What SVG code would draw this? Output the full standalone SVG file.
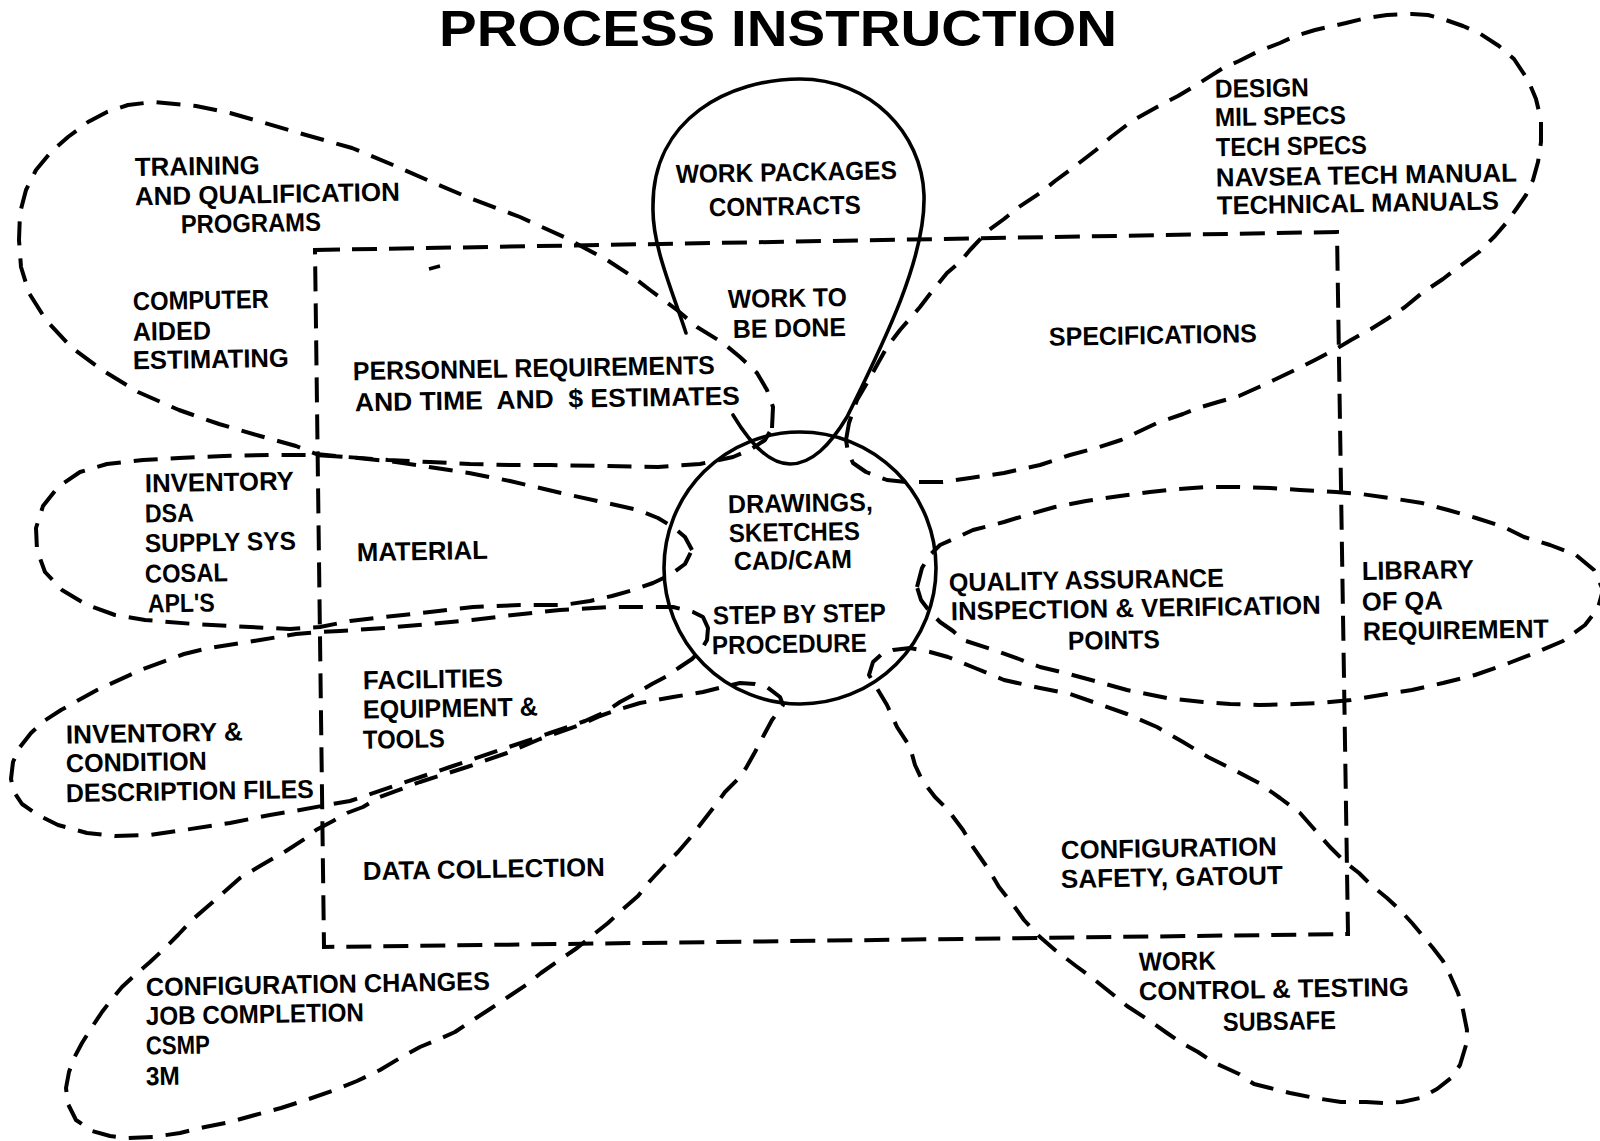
<svg xmlns="http://www.w3.org/2000/svg" width="1600" height="1141" viewBox="0 0 1600 1141">
<style>
.dash{fill:none;stroke:#000;stroke-width:4;stroke-dasharray:24 13;stroke-linejoin:round}
.frame{fill:none;stroke:#000;stroke-width:4;stroke-dasharray:25 12}
.solid{fill:none;stroke:#000;stroke-width:3.6;stroke-linecap:round}
text{font-family:"Liberation Sans",Arial,Helvetica,sans-serif;font-weight:bold;font-size:26px;fill:#000}
.title{font-size:50px}
</style>
<rect x="0" y="0" width="1600" height="1141" fill="#fff"/>

<g id="title">
<text class="title" x="439" y="46" textLength="678" lengthAdjust="spacingAndGlyphs">PROCESS INSTRUCTION</text>
</g>

<g id="frame">
<path class="frame" d="M315,250 L1337,232 L1348,934 L324,947 Z"/>
<path d="M429,269 L440,266" stroke="#000" stroke-width="3.5" fill="none"/>
</g>

<g id="petal-training">
<path class="dash" d="M772,428 L773,407 L767,390 L757,373 L740,357 L723,343 L697,327 L677,310 L650,290 L633,277 L607,260 L564,237 L520,217 L472,199 L434,183 L393,165 L352,148 L306,135 L265,123 L230,113 L196,106 L153,102 L128,105 L107,112 L88,122 L68,137 L51,152 L36,170 L26,190 L20,213 L19,240 L21,267 L29,293 L46,320 L71,347 L102,370 L138,392 L179,410 L219,424 L260,436 L296,446 L316,454 L347,457 L388,460 L430,462 L470,464 L510,465 L551,465 L602,466 L658,467 L700,464 L733,457 L750,450 L765,440 Z"/>
<text x="135" y="175" textLength="125" lengthAdjust="spacingAndGlyphs" transform="rotate(-1 197 175)">TRAINING</text>
<text x="135" y="203" textLength="265" lengthAdjust="spacingAndGlyphs" transform="rotate(-1 267 203)">AND QUALIFICATION</text>
<text x="181" y="232" textLength="140" lengthAdjust="spacingAndGlyphs" transform="rotate(-1 251 232)">PROGRAMS</text>
<text x="133" y="309" textLength="136" lengthAdjust="spacingAndGlyphs" transform="rotate(-1 201 309)">COMPUTER</text>
<text x="133" y="340" textLength="78" lengthAdjust="spacingAndGlyphs" transform="rotate(-1 172 340)">AIDED</text>
<text x="133" y="368" textLength="156" lengthAdjust="spacingAndGlyphs" transform="rotate(-1 211 368)">ESTIMATING</text>
<text x="353" y="377" textLength="362" lengthAdjust="spacingAndGlyphs" transform="rotate(-1 534 377)">PERSONNEL REQUIREMENTS</text>
<text x="355" y="408" textLength="385" lengthAdjust="spacingAndGlyphs" xml:space="preserve" transform="rotate(-1 547 408)">AND TIME  AND  $ ESTIMATES</text>
</g>

<g id="node-work-packages">
<path class="solid" d="M686,333 C672,290 652,245 653,207 C652,118 730,79 800,79 C870,79 922,133 924,195 C926,260 880,350 847,417 C830,445 812,464 790,464 C768,464 748,440 733,415"/>
<text x="676" y="181" textLength="221" lengthAdjust="spacingAndGlyphs" transform="rotate(-1 786 181)">WORK PACKAGES</text>
<text x="709" y="215" textLength="152" lengthAdjust="spacingAndGlyphs" transform="rotate(-1 785 215)">CONTRACTS</text>
<text x="728" y="307" textLength="119" lengthAdjust="spacingAndGlyphs" transform="rotate(-1 787 307)">WORK TO</text>
<text x="733" y="337" textLength="113" lengthAdjust="spacingAndGlyphs" transform="rotate(-1 789 337)">BE DONE</text>
</g>

<g id="petal-specifications">
<path class="dash" d="M846,440 L849,423 L857,400 L867,383 L877,365 L887,347 L900,330 L920,307 L933,290 L947,273 L960,262 L970,250 L989,230 L1004,219 L1019,207 L1040,193 L1055,181 L1070,170 L1096,150 L1111,137 L1132,121 L1157,107 L1178,96 L1198,84 L1223,68 L1239,61 L1259,51 L1280,43 L1295,36 L1315,30 L1346,23 L1366,18 L1387,15 L1412,14 L1428,15 L1443,19 L1463,26 L1479,33 L1499,46 L1514,59 L1528,80 L1536,99 L1541,120 L1541,142 L1538,162 L1533,180 L1526,195 L1517,208 L1507,222 L1495,236 L1479,252 L1460,266 L1443,279 L1422,293 L1405,307 L1387,319 L1371,329 L1351,340 L1336,349 L1315,360 L1295,370 L1274,380 L1259,387 L1239,396 L1218,402 L1198,408 L1183,414 L1157,423 L1138,432 L1121,440 L1096,448 L1070,455 L1040,465 L1004,473 L970,478 L943,482 L907,482 L887,480 L866,472 L853,463 L848,452 Z"/>
<text x="1215" y="97" textLength="94" lengthAdjust="spacingAndGlyphs" transform="rotate(-1 1262 97)">DESIGN</text>
<text x="1215" y="125" textLength="131" lengthAdjust="spacingAndGlyphs" transform="rotate(-1 1280 125)">MIL SPECS</text>
<text x="1216" y="155" textLength="151" lengthAdjust="spacingAndGlyphs" transform="rotate(-1 1291 155)">TECH SPECS</text>
<text x="1216" y="184" textLength="301" lengthAdjust="spacingAndGlyphs" transform="rotate(-1 1366 184)">NAVSEA TECH MANUAL</text>
<text x="1217" y="212" textLength="282" lengthAdjust="spacingAndGlyphs" transform="rotate(-1 1358 212)">TECHNICAL MANUALS</text>
<text x="1049" y="344" textLength="208" lengthAdjust="spacingAndGlyphs" transform="rotate(-1 1153 344)">SPECIFICATIONS</text>
</g>

<g id="petal-material">
<path class="dash" d="M692,550 L685,537 L673,527 L658,518 L638,510 L602,502 L561,493 L510,481 L469,473 L429,467 L388,461 L347,457 L316,455 L270,455 L224,456 L179,458 L143,460 L107,464 L80,472 L58,487 L43,506 L36,528 L37,550 L45,572 L62,590 L87,605 L115,615 L145,620 L194,624 L250,627 L290,629 L320,627 L350,621 L385,617 L430,612 L473,607 L520,605 L563,605 L590,601 L612,596 L633,590 L653,583 L670,575 L685,564 Z"/>
<text x="145" y="491" textLength="149" lengthAdjust="spacingAndGlyphs" transform="rotate(-1 219 491)">INVENTORY</text>
<text x="145" y="522" textLength="49" lengthAdjust="spacingAndGlyphs" transform="rotate(-1 169 522)">DSA</text>
<text x="145" y="551" textLength="151" lengthAdjust="spacingAndGlyphs" transform="rotate(-1 220 551)">SUPPLY SYS</text>
<text x="145" y="582" textLength="83" lengthAdjust="spacingAndGlyphs" transform="rotate(-1 186 582)">COSAL</text>
<text x="148" y="612" textLength="67" lengthAdjust="spacingAndGlyphs" transform="rotate(-1 181 612)">APL'S</text>
<text x="357" y="560" textLength="131" lengthAdjust="spacingAndGlyphs" transform="rotate(-1 422 560)">MATERIAL</text>
</g>

<g id="petal-facilities">
<path class="dash" d="M708,628 L703,617 L693,612 L673,607 L650,607 L610,607 L560,610 L513,615 L472,620 L430,624 L385,628 L340,631 L320,632 L296,634 L260,640 L209,648 L184,654 L143,669 L97,690 L61,710 L44,721 L31,733 L20,747 L13,762 L11,779 L14,792 L22,804 L38,815 L58,825 L87,833 L115,836 L150,835 L184,830 L230,823 L270,815 L300,810 L327,805 L350,801 L400,784 L450,767 L500,750 L550,733 L585,721 L605,712 L620,702 L637,693 L652,684 L667,676 L680,667 L692,659 L701,650 L707,640 Z"/>
<text x="363" y="688" textLength="140" lengthAdjust="spacingAndGlyphs" transform="rotate(-1 433 688)">FACILITIES</text>
<text x="363" y="717" textLength="175" lengthAdjust="spacingAndGlyphs" transform="rotate(-1 450 717)">EQUIPMENT &amp;</text>
<text x="363" y="748" textLength="82" lengthAdjust="spacingAndGlyphs" transform="rotate(-1 404 748)">TOOLS</text>
<text x="66" y="742" textLength="177" lengthAdjust="spacingAndGlyphs" transform="rotate(-1 154 742)">INVENTORY &amp;</text>
<text x="66" y="771" textLength="141" lengthAdjust="spacingAndGlyphs" transform="rotate(-1 136 771)">CONDITION</text>
<text x="66" y="800" textLength="248" lengthAdjust="spacingAndGlyphs" transform="rotate(-1 190 800)">DESCRIPTION FILES</text>
</g>

<g id="petal-data-collection">
<path class="dash" d="M783,705 L780,697 L767,687 L755,684 L740,683 L723,687 L703,692 L673,697 L640,703 L620,709 L600,716 L580,725 L540,739 L507,753 L467,767 L420,782 L380,797 L363,807 L347,813 L333,821 L316,830 L306,838 L286,851 L260,866 L240,878 L223,893 L207,907 L192,920 L178,935 L165,948 L150,962 L135,975 L122,987 L112,999 L102,1012 L92,1027 L82,1043 L74,1058 L69,1072 L66,1088 L68,1104 L76,1120 L92,1131 L110,1136 L128,1138 L153,1137 L180,1133 L205,1127 L230,1122 L255,1115 L281,1108 L306,1100 L332,1091 L357,1081 L380,1070 L400,1058 L420,1047 L437,1040 L455,1032 L470,1022 L490,1009 L508,997 L526,985 L541,973 L558,961 L577,948 L593,935 L608,923 L622,910 L638,896 L650,881 L664,866 L678,852 L690,838 L700,825 L714,807 L725,792 L737,780 L746,768 L755,752 L765,733 L772,720 L778,712 Z"/>
<text x="363" y="878" textLength="242" lengthAdjust="spacingAndGlyphs" transform="rotate(-1 484 878)">DATA COLLECTION</text>
<text x="146" y="993" textLength="344" lengthAdjust="spacingAndGlyphs" transform="rotate(-1 318 993)">CONFIGURATION CHANGES</text>
<text x="146" y="1023" textLength="218" lengthAdjust="spacingAndGlyphs" transform="rotate(-1 255 1023)">JOB COMPLETION</text>
<text x="146" y="1054" textLength="64" lengthAdjust="spacingAndGlyphs" transform="rotate(-1 178 1054)">CSMP</text>
<text x="146" y="1085" textLength="34" lengthAdjust="spacingAndGlyphs" transform="rotate(-1 163 1085)">3M</text>
</g>

<g id="petal-quality-assurance">
<path class="dash" d="M917,587 L922,568 L930,555 L940,545 L958,537 L973,530 L1004,522 L1030,514 L1055,507 L1086,501 L1120,496 L1150,492 L1178,489 L1208,487 L1240,487 L1270,488 L1300,490 L1336,492 L1361,494 L1390,498 L1422,503 L1448,510 L1476,518 L1504,527 L1524,537 L1550,545 L1576,555 L1594,570 L1603,590 L1598,608 L1585,625 L1563,641 L1535,653 L1509,663 L1475,675 L1443,683 L1412,690 L1387,694 L1351,700 L1320,703 L1295,704 L1259,705 L1230,704 L1203,702 L1167,698 L1127,690 L1095,681 L1065,673 L1040,667 L1019,659 L994,650 L963,640 L953,631 L940,622 L930,612 L921,600 Z"/>
<text x="949" y="589" textLength="275" lengthAdjust="spacingAndGlyphs" transform="rotate(-1 1086 589)">QUALITY ASSURANCE</text>
<text x="951" y="617" textLength="370" lengthAdjust="spacingAndGlyphs" transform="rotate(-1 1136 617)">INSPECTION &amp; VERIFICATION</text>
<text x="1068" y="649" textLength="92" lengthAdjust="spacingAndGlyphs" transform="rotate(-1 1114 649)">POINTS</text>
<text x="1362" y="579" textLength="112" lengthAdjust="spacingAndGlyphs" transform="rotate(-1 1418 579)">LIBRARY</text>
<text x="1362" y="610" textLength="81" lengthAdjust="spacingAndGlyphs" transform="rotate(-1 1402 610)">OF QA</text>
<text x="1363" y="639" textLength="186" lengthAdjust="spacingAndGlyphs" transform="rotate(-1 1456 639)">REQUIREMENT</text>
</g>

<g id="petal-work-control">
<path class="dash" d="M869,675 L873,662 L882,654 L893,650 L910,648 L930,652 L948,657 L975,668 L1004,680 L1040,688 L1070,694 L1096,703 L1127,714 L1157,727 L1183,742 L1208,757 L1234,770 L1259,783 L1280,798 L1300,813 L1315,830 L1330,847 L1345,862 L1359,873 L1371,885 L1387,898 L1400,910 L1412,923 L1422,935 L1433,948 L1443,961 L1450,975 L1458,993 L1463,1010 L1467,1030 L1466,1045 L1460,1065 L1451,1078 L1437,1089 L1420,1098 L1402,1102 L1385,1103 L1366,1102 L1341,1102 L1315,1098 L1290,1093 L1270,1088 L1254,1084 L1239,1074 L1226,1068 L1213,1062 L1198,1052 L1180,1042 L1167,1033 L1147,1019 L1127,1006 L1116,997 L1091,977 L1076,966 L1055,950 L1040,937 L1024,920 L1014,906 L999,887 L989,870 L973,847 L963,830 L948,810 L935,797 L922,780 L915,765 L910,747 L897,727 L887,705 L878,690 Z"/>
<text x="1061" y="857" textLength="216" lengthAdjust="spacingAndGlyphs" transform="rotate(-1 1169 857)">CONFIGURATION</text>
<text x="1061" y="886" textLength="222" lengthAdjust="spacingAndGlyphs" transform="rotate(-1 1172 886)">SAFETY, GATOUT</text>
<text x="1139" y="970" textLength="77" lengthAdjust="spacingAndGlyphs" transform="rotate(-1 1177 970)">WORK</text>
<text x="1139" y="998" textLength="270" lengthAdjust="spacingAndGlyphs" transform="rotate(-1 1274 998)">CONTROL &amp; TESTING</text>
<text x="1223" y="1030" textLength="113" lengthAdjust="spacingAndGlyphs" transform="rotate(-1 1279 1030)">SUBSAFE</text>
</g>

<g id="node-drawings">
<circle class="solid" cx="800" cy="568" r="136"/>
<text x="728" y="512" textLength="145" lengthAdjust="spacingAndGlyphs" transform="rotate(-1 800 512)">DRAWINGS,</text>
<text x="729" y="541" textLength="131" lengthAdjust="spacingAndGlyphs" transform="rotate(-1 794 541)">SKETCHES</text>
<text x="734" y="569" textLength="118" lengthAdjust="spacingAndGlyphs" transform="rotate(-1 793 569)">CAD/CAM</text>
<text x="713" y="623" textLength="173" lengthAdjust="spacingAndGlyphs" transform="rotate(-1 799 623)">STEP BY STEP</text>
<text x="712" y="653" textLength="155" lengthAdjust="spacingAndGlyphs" transform="rotate(-1 789 653)">PROCEDURE</text>
</g>
</svg>
